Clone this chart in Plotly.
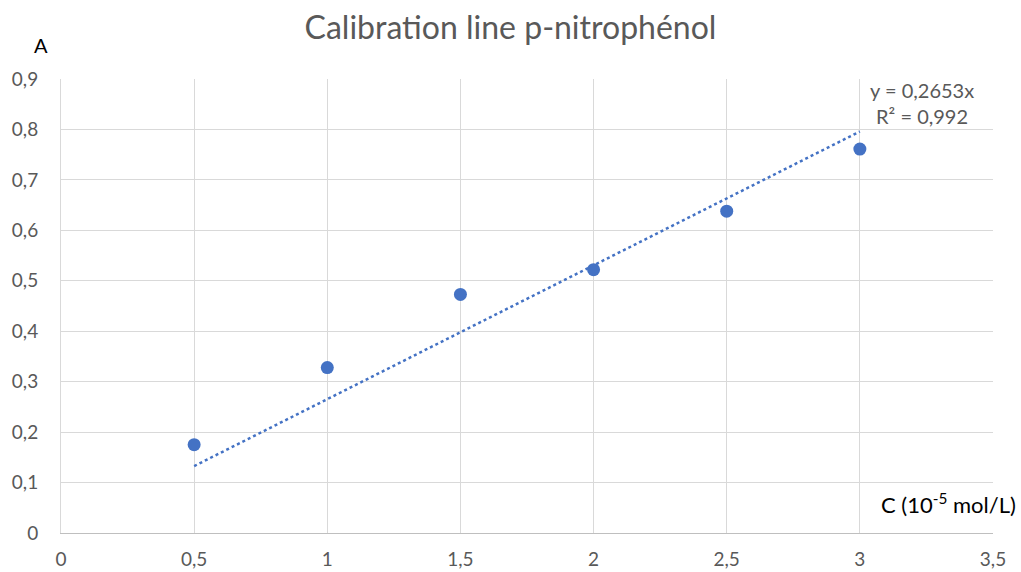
import plotly.graph_objects as go

conc = [0.5, 1, 1.5, 2, 2.5, 3]
absorb = [0.175, 0.328, 0.473, 0.522, 0.638, 0.761]
slope = 0.2653
trend_x = [0.5, 3]
trend_y = [slope * x for x in trend_x]

x_ticks = [0, 0.5, 1, 1.5, 2, 2.5, 3, 3.5]
y_ticks = [0, 0.1, 0.2, 0.3, 0.4, 0.5, 0.6, 0.7, 0.8, 0.9]

font = "Lato"
grey = "#595959"
blue = "#4472C4"

fig = go.Figure()
fig.add_trace(go.Scatter(x=trend_x, y=trend_y, mode="lines",
                         line=dict(color=blue, width=2.5, dash="dot"),
                         showlegend=False, hoverinfo="skip"))
fig.add_trace(go.Scatter(x=conc, y=absorb, mode="markers",
                         marker=dict(color=blue, size=13),
                         showlegend=False))

fig.update_layout(
    width=1021, height=572,
    margin=dict(l=61, r=28, t=79, b=39),
    paper_bgcolor="white", plot_bgcolor="white",
    separators=", ",
    font=dict(family=font, color=grey, size=19),
    title=dict(text="Calibration line p-nitrophénol", x=0.5, xanchor="center",
               y=0.952, yanchor="middle",
               font=dict(family=font, size=32, color=grey)),
    xaxis=dict(range=[0, 3.5], tickvals=x_ticks, showgrid=True,
               gridcolor="#D9D9D9", gridwidth=1, zeroline=False,
               showline=True, linecolor="#BFBFBF", linewidth=1,
               ticks="", ticklabelstandoff=9, automargin=False,
               tickfont=dict(family=font, size=19, color=grey)),
    yaxis=dict(range=[0, 0.9], tickvals=y_ticks, showgrid=True,
               gridcolor="#D9D9D9", gridwidth=1, zeroline=False,
               showline=True, linecolor="#D9D9D9", linewidth=1,
               ticks="", ticklabelstandoff=18, automargin=False,
               tickfont=dict(family=font, size=19, color=grey)),
    annotations=[
        dict(text="A", xref="paper", yref="paper", x=-0.012, y=1.045,
             xanchor="right", yanchor="bottom", showarrow=False,
             font=dict(family=font, size=20, color="black")),
        dict(text="C (10<sup>-5</sup> mol/L)", xref="paper", yref="paper",
             x=1.027, y=0.028, xanchor="right", yanchor="bottom", showarrow=False,
             font=dict(family=font, size=22, color="black")),
        dict(text="y = 0,2653x<br>R² = 0,992", xref="x", yref="y",
             x=3.233, y=0.852, xanchor="center", yanchor="middle",
             showarrow=False, align="center",
             font=dict(family=font, size=20, color=grey)),
    ],
)

fig.write_html("out.html", config={"displayModeBar": False},
               post_script="document.body.style.margin='0';")
